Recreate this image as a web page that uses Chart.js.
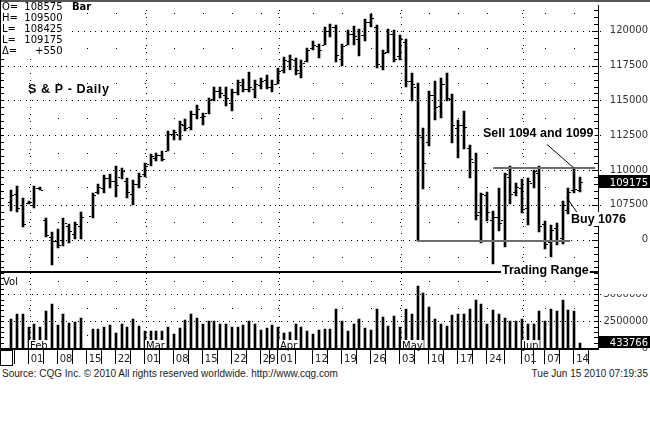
<!DOCTYPE html>
<html><head><meta charset="utf-8">
<script src="https://cdn.jsdelivr.net/npm/chart.js@4.4.1/dist/chart.umd.min.js"></script>
<style>
html,body{margin:0;padding:0;background:#fff;width:650px;height:426px;overflow:hidden;}
#wrap{position:absolute;left:0;top:0;width:650px;height:367px;}
.foot{position:absolute;top:368px;font:10px "Liberation Sans",Arial,sans-serif;line-height:12px;color:#222;white-space:nowrap;}
</style></head><body>
<div id="wrap"><canvas id="c" width="650" height="367"></canvas></div>
<div class="foot" style="left:2px">Source: CQG Inc. © 2010 All rights reserved worldwide. http://www.cqg.com</div>
<div class="foot" style="right:2px">Tue Jun 15 2010 07:19:35</div>
<script>
// ---------- data (trading-day slots, Jan 27 – Jun 15 2010) ----------
const dates = ['01-27','01-28','01-29','02-01','02-02','02-03','02-04','02-05','02-08','02-09','02-10','02-11','02-12','02-15','02-16','02-17','02-18','02-19','02-22','02-23','02-24','02-25','02-26','03-01','03-02','03-03','03-04','03-05','03-08','03-09','03-10','03-11','03-12','03-15','03-16','03-17','03-18','03-19','03-22','03-23','03-24','03-25','03-26','03-29','03-30','03-31','04-01','04-05','04-06','04-07','04-08','04-09','04-12','04-13','04-14','04-15','04-16','04-19','04-20','04-21','04-22','04-23','04-26','04-27','04-28','04-29','04-30','05-03','05-04','05-05','05-06','05-07','05-10','05-11','05-12','05-13','05-14','05-17','05-18','05-19','05-20','05-21','05-24','05-25','05-26','05-27','05-28','05-31','06-01','06-02','06-03','06-04','06-07','06-08','06-09','06-10','06-11','06-14','06-15'];

const opens = [1077,1083,1075,1076,1075,1087,1064,1052,1049,1050,
 1060,1054,1060,null,1067,1084,1087,1094,1092,1095,
 1092,1083,1090,1097,1104,1109,1111,1114,1126,1126,
 1132,1131,1140,1138,1141,1151,1157,1154,1148,1156,
 1161,1158,1158,1161,1165,1160,1162,1172,1178,1179,
 1170,1178,1188,1189,1190,1200,1203,1180,1190,1198,
 1194,1197,1206,1203,1175,1185,1198,1182,1192,1164,
 1160,1124,1120,1154,1146,1162,1151,1130,1132,1116,
 1106,1070,1082,1064,1066,1064,1095,1084,1087,1073,
 1091,1098,1061,1048,1058,1051,1071,1086,1085.75];

const highs = [1085.5,1088.6,1080.2,1077.9,1088.6,1087.5,1065.9,1055.7,1057.6,1065.9,
 1061.2,1062.4,1069.5,null,1083.8,1089.8,1096.4,1097.4,1102.9,1101.6,
 1094.5,1092.9,1098.1,1105.2,1111.4,1112.4,1113.6,1127.9,1129.1,1135.0,
 1136.9,1142.1,1146.4,1140.9,1152.1,1159.3,1159.3,1159.3,1158.4,1164.8,
 1165.5,1170.7,1164.8,1165.9,1168.4,1164.8,1173.1,1181.4,1182.6,1180.7,
 1179.3,1187.9,1192.6,1190.2,1202.9,1205.2,1204.1,1190.9,1200.5,1203.6,
 1201.6,1208.8,1212.4,1204.1,1186.2,1201.2,1200.5,1196.9,1194.3,1169.5,
 1162.4,1130.2,1156.9,1163.8,1166.4,1169.5,1154.5,1135.9,1142.6,1118.1,
 1112.1,1083.8,1084.5,1070.7,1087.1,1098.1,1102.9,1090.9,1093.6,1094.3,
 1100.0,1102.9,1063.6,1060.7,1062.1,1077.9,1087.1,1101.6,1095];

const lows = [1070.7,1069.5,1059.3,1075.7,1072.6,1085.7,1051.6,1031.9,1044.1,1045.7,
 1047.4,1050.5,1050.5,null,1065.9,1083.1,1083.8,1086.9,1080.7,1093.4,
 1080.2,1075.0,1086.9,1095.0,1102.9,1106.4,1106.4,1113.6,1121.9,1121.9,
 1127.9,1129.1,1136.9,1132.1,1140.0,1149.3,1151.6,1145.7,1142.1,1154.1,
 1155.9,1155.9,1151.6,1158.4,1158.4,1156.4,1161.6,1169.5,1171.9,1168.4,
 1165.9,1177.9,1186.2,1180.2,1189.8,1195.7,1177.9,1174.8,1189.8,1189.8,
 1182.1,1192.6,1202.9,1173.1,1171.9,1183.8,1177.9,1179.1,1160.0,1149.8,
 1049.3,1086.2,1117.1,1136.2,1137.4,1149.5,1119.5,1108.4,1114.8,1094.5,
 1064.3,1047.4,1063.6,1032.6,1056.4,1044.5,1075.7,1081.4,1069.3,1060.7,
 1087.1,1055.2,1043.4,1037.4,1046.4,1047.1,1068.6,1083.8,1084.25];

const closes = [1082,1073,1061,1077,1087,1086,1053,1049,1046,1062,
 1056,1061,1066,null,1082,1088,1094,1092,1089,1099,
 1084,1090,1096,1103,1110,1111,1108,1126,1127,1133,
 1130,1140,1144,1139,1150,1157,1155,1152,1156,1163,
 1158,1160,1162,1164,1160,1162,1171,1179,1180,1172,
 1177,1186,1190,1186,1200,1203,1183,1189,1198,1196,
 1197,1206,1209,1176,1184,1198,1180,1194,1164,1162,
 1125,1105,1154,1145,1162,1152,1132,1132,1131,1108,
 1068,1083,1070,1066,1062,1097,1083,1088,1072,1092,
 1099,1060,1047,1057,1050,1075,1084,1086.25,1091.75];

const volumes = [2690000,3150000,3150000,1980000,2220000,1980000,3400000,4070000,2130000,3150000,
 2310000,2380000,2780000,null,1760000,1760000,1910000,2130000,1360000,2280000,
 2000000,2690000,2070000,1600000,1600000,1600000,1540000,1980000,1300000,1850000,
 2590000,3210000,2780000,2220000,2530000,2470000,2280000,2280000,1980000,1910000,
 2160000,2470000,2220000,1670000,1850000,2160000,1980000,1360000,1450000,2220000,
 1910000,1600000,1300000,1670000,1760000,1760000,3610000,2530000,1540000,2220000,
 2690000,1850000,1670000,3610000,2900000,2070000,2990000,1910000,3610000,3150000,
 5770000,5150000,3830000,2690000,2220000,2070000,3090000,3150000,3210000,3610000,
 4440000,4140000,2280000,3520000,3150000,2780000,2470000,2470000,2690000,2280000,
 2220000,3400000,2530000,3610000,3460000,4440000,3520000,3400000,433766];

const tickDates = ['02-01','02-08','02-15','02-22','03-01','03-08','03-15','03-22','03-29','04-01','04-12','04-19','04-26','05-03','05-10','05-17','05-24','06-01','06-07','06-14'];
const monthStarts = ['02-01','03-01','04-01','05-03','06-01'];
const monthNames = ['Feb','Mar','Apr','May','Jun'];
const priceTicks = [1050,1075,1100,1125,1150,1175,1200];
const priceHalfLevels = [1037.5,1062.5,1087.5,1112.5,1137.5,1162.5,1187.5,1212.5];
const volumeTicks = [0,2500000,5000000];
const volumeHalfLevels = [1250000,3750000,6250000];

// annotations, in data units (slot index, price)
const rangeTopLine = {from:83.05, to:100.6, price:1101.6};
const rangeLowLine = {from:70, to:96.3, price:1049.3};
const sellPointer = {k1:92.3, p1:1118.4, k2:96.9, p2:1101.6};
const buyPointer = {k1:95.7, p1:1080.2, k2:97.5, p2:1069.5};
const sellLabel = {text:'Sell 1094 and 1099', k:81.2, p:1123.6};
const buyLabel = {text:'Buy 1076', k:96.5, p:1061.8};
const rangeLabel = {text:'Trading Range', k:84.5, p:1025};

// ---------- derived ----------
const last = dates.length - 1;
const tickSlots = tickDates.map(d => dates.indexOf(d));
const tickText = {}; tickDates.forEach((d,i) => tickText[tickSlots[i]] = d.slice(3));
const monthSlots = monthStarts.map(d => dates.indexOf(d));
const FONT_SM = '"DejaVu Sans", Verdana, sans-serif';
const FONT_B = '"Liberation Sans", Arial, sans-serif';

const rangeData = [], openData = [], closeData = [], volData = [];
dates.forEach((d,i) => {
  if (highs[i] == null) return;
  rangeData.push({x:i, y:[lows[i], highs[i]]});
  openData.push({x:i - 0.36, y:opens[i]});
  closeData.push({x:i + 0.36, y:closes[i]});
  volData.push({x:i, y:volumes[i]});
});

const noPad = s => { s.paddingTop = 0; s.paddingBottom = 0; s.paddingLeft = 0; s.paddingRight = 0; };

const decor = {
  id:'decor',
  afterDatasetsUpdate(chart){
    // snap marks to whole pixels so they render crisp, like the reference
    chart.data.datasets.forEach((ds, di) => {
      const meta = chart.getDatasetMeta(di);
      meta.data.forEach(el => {
        if (meta.type === 'bar') { el.x = Math.round(el.x); el.y = Math.round(el.y); el.base = Math.round(el.base); }
        else { el.x = Math.round(el.x); el.y = Math.round(el.y) + 0.5; }
      });
    });
  },
  beforeDatasetsDraw(chart){
    const {ctx, scales:{x, y, yv}} = chart;
    const px = k => x.getPixelForValue(k);
    const dot = (X,Y) => ctx.fillRect(Math.round(X), Math.round(Y), 1, 1);
    ctx.save();
    ctx.fillStyle = '#000';
    const kA = Math.ceil(x.min), kB = Math.floor(x.max);
    priceTicks.forEach(v => { const Y = y.getPixelForValue(v); for (let k=kA;k<=kB;k++) dot(px(k)+2.9, Y); });
    volumeTicks.slice(1).forEach(v => { const Y = yv.getPixelForValue(v); for (let k=kA;k<=kB;k++) dot(px(k)+2.9, Y); });
    priceHalfLevels.forEach(v => { const Y = y.getPixelForValue(v); tickSlots.forEach(k => dot(px(k), Y)); });
    volumeHalfLevels.forEach(v => { const Y = yv.getPixelForValue(v); tickSlots.forEach(k => dot(px(k), Y)); });
    monthSlots.forEach(k => {
      const X = px(k) + 1;
      for (let v = 1030; v <= y.max; v += 5) dot(X, y.getPixelForValue(v));
      for (let v = 500000; v <= yv.max; v += 500000) dot(X, yv.getPixelForValue(v));
    });
    ctx.restore();
  },
  afterDraw(chart){
    const {ctx, scales:{x, y, yv}} = chart;
    const px = k => x.getPixelForValue(k);
    const axisX = Math.round(y.left);
    ctx.save();
    ctx.fillStyle = '#000';
    // minor ticks inside right axis and on left edge
    for (let v = 1030; v <= y.max; v += 5) {
      const Y = Math.round(y.getPixelForValue(v));
      const len = (v % 25 === 0) ? 6 : 4;
      ctx.fillRect(axisX - len, Y, len, 1);
      ctx.fillRect(1, Y, 3, 1);
    }
    for (let v = 500000; v <= yv.max; v += 500000) {
      const Y = Math.round(yv.getPixelForValue(v));
      ctx.fillRect(axisX - 4, Y, 4, 1);
      ctx.fillRect(1, Y, 3, 1);
    }
    // range lines
    ctx.strokeStyle = '#6e6e6e'; ctx.lineWidth = 2;
    [rangeTopLine, rangeLowLine].forEach(L => {
      const Y = Math.round(y.getPixelForValue(L.price));
      ctx.beginPath(); ctx.moveTo(px(L.from), Y); ctx.lineTo(px(L.to), Y); ctx.stroke();
    });
    ctx.strokeStyle = '#000'; ctx.lineWidth = 1;
    [sellPointer, buyPointer].forEach(P => {
      ctx.beginPath(); ctx.moveTo(px(P.k1), y.getPixelForValue(P.p1)); ctx.lineTo(px(P.k2), y.getPixelForValue(P.p2)); ctx.stroke();
    });
    // month labels in volume pane
    ctx.font = '10px ' + FONT_SM; ctx.textBaseline = 'alphabetic'; ctx.textAlign = 'left';
    monthSlots.forEach((k,i) => {
      const X = Math.round(px(k) + 1.5), w = ctx.measureText(monthNames[i]).width;
      ctx.fillStyle = '#fff'; ctx.fillRect(X - 1, 340, w + 2, 8);
      ctx.fillStyle = '#000'; ctx.fillText(monthNames[i], X, 349);
    });
    // frame lines
    ctx.fillStyle = '#555'; ctx.fillRect(0, 0, 650, 2);
    ctx.fillStyle = '#000';
    ctx.fillRect(0, 0, 1, 366);
    ctx.fillRect(0, Math.round(y.bottom) - 1, axisX, 2);
    ctx.fillRect(0, Math.round(x.top), axisX + 1, 2);
    // date-axis tick marks
    tickSlots.forEach(k => ctx.fillRect(Math.round(px(k)) - 1, Math.round(x.top) + 2, 1, 14));
    ctx.strokeStyle = '#000'; ctx.lineWidth = 1; ctx.strokeRect(0.5, 350.5, 12, 15);
    // partially hidden axis labels
    ctx.fillStyle = '#fff';
    ctx.fillRect(axisX + 2, Math.round(yv.getPixelForValue(5000000)) - 8, 52, 8);
    ctx.fillRect(axisX + 2, Math.round(y.getPixelForValue(1050)) - 8, 41, 16);
    // text helper
    const txt = (s, X, Yb, font, pad) => {
      ctx.font = font; ctx.textAlign = 'left'; ctx.textBaseline = 'alphabetic';
      const w = ctx.measureText(s).width;
      ctx.fillStyle = '#fff'; ctx.fillRect(X - pad, Yb - 11, w + 2*pad, 14);
      ctx.fillStyle = '#000'; ctx.fillText(s, X, Yb);
    };
    const BOLD = 'bold 12.5px ' + FONT_B;
    [sellLabel, buyLabel, rangeLabel].forEach(L => txt(L.text, Math.round(px(L.k)), Math.round(y.getPixelForValue(L.p)), BOLD, 1));
    // title
    ctx.font = 'bold 12.5px ' + FONT_B; ctx.letterSpacing = '0.6px';
    ctx.fillStyle = '#000'; ctx.fillText('S & P - Daily', 28, 93);
    ctx.letterSpacing = '0px';
    // info box
    ctx.fillStyle = '#fff'; ctx.fillRect(1, 2, 67, 56);
    ctx.fillStyle = '#000'; ctx.font = '10px ' + FONT_SM;
    const iL = last;
    const info = [['O=', String(Math.round(opens[iL]*100))], ['H=', String(Math.round(highs[iL]*100))],
      ['L=', String(Math.round(lows[iL]*100))], ['L=', String(Math.round(closes[iL]*100))],
      ['Δ=', '+' + String(Math.round((closes[iL]-closes[iL-1])*100))]];
    info.forEach((r,i) => {
      const Yb = 9.5 + i*11.1;
      ctx.textAlign = 'left'; ctx.fillText(r[0], 2, Yb);
      ctx.textAlign = 'right'; ctx.fillText(r[1], 62.5, Yb);
    });
    ctx.textAlign = 'left'; ctx.font = 'bold 10px ' + FONT_SM; ctx.fillText('Bar', 72, 9.5);
    ctx.font = '10px ' + FONT_SM; ctx.fillText('Vol', 3, 285);
    // last value boxes
    const Yp = Math.round(y.getPixelForValue(closes[iL]));
    ctx.fillStyle = '#000'; ctx.fillRect(axisX, Yp - 7, 52, 13);
    ctx.fillStyle = '#fff'; ctx.textAlign = 'right'; ctx.fillText(String(Math.round(closes[iL]*100)), 648, Yp + 4);
    const Yv = Math.round(yv.getPixelForValue(volumes[iL]));
    ctx.fillStyle = '#000'; ctx.fillRect(axisX, Yv - 7, 52, 12);
    ctx.fillStyle = '#fff'; ctx.fillText(String(volumes[iL]), 648, Yv + 3);
    ctx.restore();
  }
};

new Chart(document.getElementById('c'), {
  type:'bar',
  data:{ datasets:[
    {type:'bar', label:'High-Low', data:rangeData, xAxisID:'x', yAxisID:'y', backgroundColor:'#000', barThickness:2, grouped:false, borderWidth:0},
    {type:'scatter', label:'Open', data:openData, xAxisID:'x', yAxisID:'y', showLine:false, pointStyle:'line', pointRadius:1, pointBorderWidth:1, borderColor:'#000', backgroundColor:'#000'},
    {type:'scatter', label:'Close', data:closeData, xAxisID:'x', yAxisID:'y', showLine:false, pointStyle:'line', pointRadius:1, pointBorderWidth:1, borderColor:'#000', backgroundColor:'#000'},
    {type:'bar', label:'Volume', data:volData, xAxisID:'x', yAxisID:'yv', backgroundColor:'#000', barThickness:2, grouped:false, borderWidth:0}
  ]},
  options:{
    responsive:false, animation:false, devicePixelRatio:1,
    layout:{padding:{left:2, top:3, right:2, bottom:1}},
    plugins:{legend:{display:false}, tooltip:{enabled:false}},
    scales:{
      x:{type:'linear', min:-1.08, max:101.1, offset:false, position:'bottom',
        grid:{drawOnChartArea:false, drawTicks:true, tickLength:16, color:'#000', lineWidth:1},
        border:{display:false},
        ticks:{autoSkip:false, maxRotation:0, minRotation:0, align:'start', padding:-11, labelOffset:2, color:'#222',
          font:{family:FONT_SM, size:10}, callback:(v) => tickText[v] ?? ''},
        afterBuildTicks:s => { s.ticks = tickSlots.map(v => ({value:v})); },
        afterFit:s => { s.height = 18; noPad(s); }
      },
      y:{type:'linear', position:'right', stack:'panes', stackWeight:269, min:1026.43, max:1218.57,
        grid:{display:false, drawTicks:false},
        border:{display:true, color:'#000', width:1},
        ticks:{crossAlign:'far', padding:11.8, color:'#333', font:{family:FONT_SM, size:10},
          callback:v => String(Math.round(v*100))},
        afterBuildTicks:s => { s.ticks = priceTicks.map(v => ({value:v})); },
        afterFit:s => { s.width = 50; noPad(s); }
      },
      yv:{type:'linear', position:'right', stack:'panes', stackWeight:76, min:0, max:7037000,
        grid:{display:false, drawTicks:false},
        border:{display:true, color:'#000', width:1},
        ticks:{crossAlign:'far', padding:5.5, color:'#333', font:{family:FONT_SM, size:10},
          callback:v => String(v)},
        afterBuildTicks:s => { s.ticks = volumeTicks.map(v => ({value:v})); },
        afterFit:s => { s.width = 50; noPad(s); }
      }
    }
  },
  plugins:[decor]
});
</script></body></html>
